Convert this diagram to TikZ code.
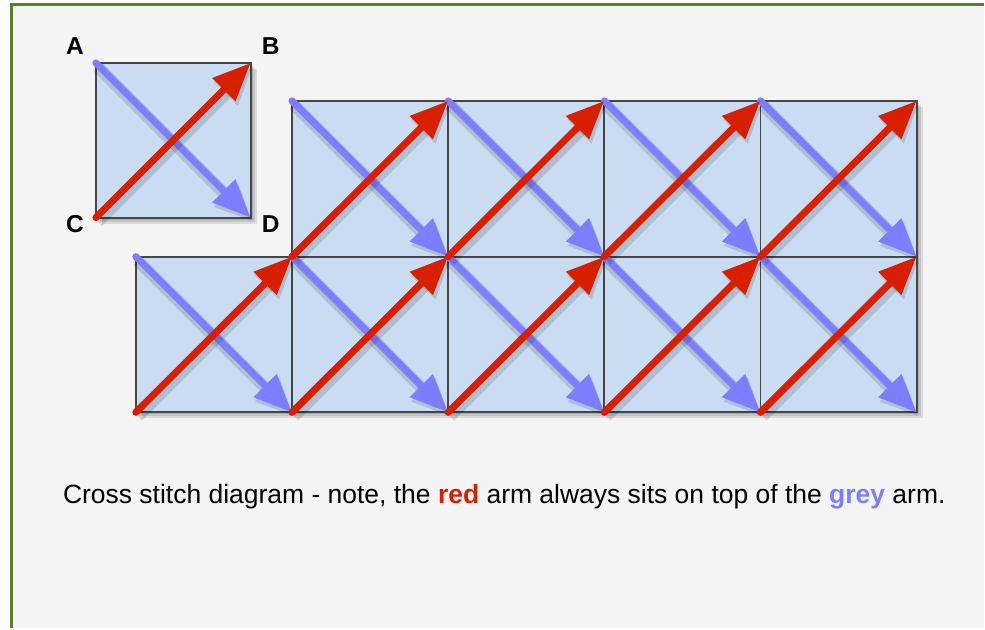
\documentclass[tikz,border=0pt]{standalone}
\usepackage{fontspec}
\setmainfont{Liberation Sans}
\usetikzlibrary{arrows.meta, positioning, calc}
\definecolor{PageGrey}{RGB}{244,244,244}
\definecolor{FrameGreen}{RGB}{84,130,42}
\definecolor{CellBlue}{RGB}{201,220,241}
\definecolor{EdgeGrey}{RGB}{70,70,70}
\definecolor{ArmRed}{RGB}{216,32,0}
\definecolor{ArmBlue}{RGB}{124,126,255}

\tikzset{
  cell/.style={fill=CellBlue, draw=EdgeGrey, line width=1.8pt},
  cellshade/.style={fill=black, opacity=0.10},
  armshade/.style={preaction={draw=black, opacity=0.13, line width=12pt,
      transform canvas={shift={(2pt,-4pt)}}}},
  arm/.style={armshade, line width=7pt, line cap=round,
      -{Triangle[length=38pt, width=31pt]}},
  redarm/.style={arm, ArmRed},
  bluearm/.style={arm, ArmBlue},
  letter/.style={font=\fontsize{24.5}{26}\selectfont\bfseries},
}

\begin{document}
\begin{tikzpicture}[x=1pt, y=-1pt]
  % page and frame
  \fill[white] (0,0) rectangle (985,629);
  \fill[PageGrey] (12,5) rectangle (985,629);
  \draw[FrameGreen, line width=3pt] (12,629) -- (12,5) -- (985,5);
  \useasboundingbox (0,0) rectangle (985,629);

  % single stitch
  \coordinate (A) at (96,63);
  \coordinate (B) at (251,63);
  \coordinate (C) at (96,218);
  \coordinate (D) at (251,218);

  \node[letter] (labA) at (75,46) {A};
  \node[letter] (labB) at (271,46) {B};
  \node[letter] (labC) at (75,224) {C};
  \node[letter] (labD) at (271,224) {D};

  % grid corners
  \foreach \i in {0,...,5}
    \foreach \j in {0,1,2}
      \coordinate (g\i\j) at ({136+156.4*\i},{101+156*\j});

  % soft shadows under the squares
  \foreach \d in {2,4,6}{
    \fill[cellshade] ($(A)+(\d,\d)$) rectangle ($(D)+(\d,\d)$);
    \fill[cellshade] ($(g10)+(\d,\d)$) rectangle ($(g51)+(\d,\d)$);
    \fill[cellshade] ($(g01)+(\d,\d)$) rectangle ($(g52)+(\d,\d)$);
  }

  \draw[cell] (A) rectangle (D);
  \foreach \i/\ii in {1/2,2/3,3/4,4/5}
    \draw[cell] (g\i0) rectangle (g\ii1);
  \foreach \i/\ii in {0/1,1/2,2/3,3/4,4/5}
    \draw[cell] (g\i1) rectangle (g\ii2);

  % grey arms underneath
  \draw[bluearm] (A) -- (D);
  \foreach \i/\ii in {1/2,2/3,3/4,4/5}
    \draw[bluearm] (g\i0) -- (g\ii1);
  \foreach \i/\ii in {0/1,1/2,2/3,3/4,4/5}
    \draw[bluearm] (g\i1) -- (g\ii2);

  % red arms on top
  \draw[redarm] (C) -- (B);
  \foreach \i/\ii in {1/2,2/3,3/4,4/5}
    \draw[redarm] (g\i1) -- (g\ii0);
  \foreach \i/\ii in {0/1,1/2,2/3,3/4,4/5}
    \draw[redarm] (g\i2) -- (g\ii1);

  \node[font=\fontsize{26.5}{30}\selectfont] (caption) at (505,497)
    {Cross stitch diagram - note, the \textcolor{ArmRed}{\bfseries red} arm always sits on top of the \textcolor{ArmBlue}{\bfseries grey} arm.};
\end{tikzpicture}
\end{document}
